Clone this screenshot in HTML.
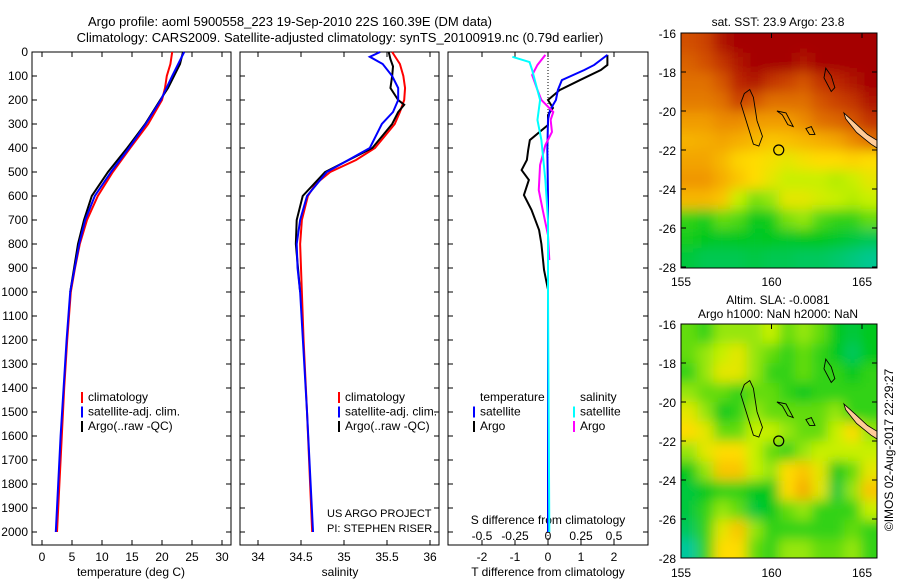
<!DOCTYPE html>
<html><head><meta charset="utf-8"><style>
body{margin:0;background:#fff}
svg{font-family:"Liberation Sans",sans-serif;font-size:12px}
</style></head><body>
<svg id="s" width="900" height="580" xmlns="http://www.w3.org/2000/svg">
<defs>
<filter id="bl" x="-10%" y="-10%" width="120%" height="120%"><feGaussianBlur stdDeviation="6"/></filter>
<clipPath id="c1"><rect x="681" y="33" width="196" height="235"/></clipPath>
<clipPath id="c2"><rect x="681" y="324" width="196" height="234"/></clipPath>
</defs>
<text x="290" y="26" text-anchor="middle" font-size="13">Argo profile: aoml 5900558_223 19-Sep-2010 22S 160.39E (DM data)</text>
<text x="340" y="42" text-anchor="middle" font-size="13">Climatology: CARS2009. Satellite-adjusted climatology: synTS_20100919.nc (0.79d earlier)</text>
<text x="778" y="26" text-anchor="middle">sat. SST: 23.9 Argo: 23.8</text>
<text x="778" y="304" text-anchor="middle">Altim. SLA: -0.0081</text>
<text x="778" y="318" text-anchor="middle">Argo h1000: NaN h2000: NaN</text>
<text transform="translate(893,450) rotate(-90)" text-anchor="middle">©IMOS 02-Aug-2017 22:29:27</text>
<g id="g"></g>
</svg>
<script>
const depthTicks=[0,100,200,300,400,500,600,700,800,900,1000,1100,1200,1300,1400,1500,1600,1700,1800,1900,2000];
const tempTicks=[0,5,10,15,20,25,30];
const salTicks=[34,34.5,35,35.5,36];
const tdTicks=[-2,-1,0,1,2];
const sdTicks=[-0.5,-0.25,0,0.25,0.5];
const sdTickLabels=["-0.5","-0.25","0","0.25","0.5"];

const tClimDepth=[0,50,100,150,200,300,400,500,600,700,800,900,1000,1200,1400,1600,1800,2000];
const tClimVal=[21.7,21.4,20.8,20.5,20.0,17.7,14.7,11.8,9.3,7.5,6.3,5.5,4.8,4.2,3.7,3.3,2.9,2.5];
const tArgoDepth=[0,50,100,150,200,300,400,500,600,700,800,1000];
const tArgoVal=[23.5,23.0,22.0,21.0,19.7,17.2,14.2,11.0,8.3,7.0,6.0,4.7];
const tSatDepth=[0,100,200,300,400,500,600,700,800,1000,1200,1400,1600,1800,2000];
const tSatVal=[23.7,21.7,19.8,17.3,14.5,11.5,8.8,7.2,6.2,4.7,4.1,3.6,3.1,2.7,2.3];

const sClimDepth=[0,50,100,150,200,250,300,400,450,500,550,600,700,800,900,1000,1200,1500,2000];
const sClimVal=[35.56,35.65,35.69,35.71,35.70,35.65,35.59,35.36,35.14,34.84,34.67,34.58,34.51,34.49,34.50,34.51,34.53,34.57,34.63];
const sArgoDepth=[0,30,60,100,150,200,220,250,300,400,500,600,700,800,1000];
const sArgoVal=[35.52,35.54,35.57,35.56,35.54,35.63,35.70,35.63,35.56,35.33,34.78,34.52,34.45,34.44,34.49];
const sSatDepth=[0,20,50,100,150,200,250,300,400,500,600,700,800,900,1000,1500,2000];
const sSatVal=[35.42,35.30,35.45,35.56,35.63,35.63,35.57,35.44,35.30,34.80,34.57,34.49,34.45,34.46,34.49,34.57,34.64];

const dtSatDepth=[12,54,75,117,158,200,242,283,408,600,1000,1500,2000];
const dtSatVal=[1.8,1.4,1.1,0.42,0.3,0.24,0.06,0,-0.02,0,0,0,0];
const dtArgoDepth=[12,54,75,117,158,200,233,263,304,367,408,450,492,533,596,658,742,800,908,990];
const dtArgoVal=[1.8,1.8,1.6,0.97,0.36,0,0.15,0,0,-0.55,-0.6,-0.64,-0.8,-0.58,-0.73,-0.5,-0.27,-0.2,-0.12,0];
const dsSatDepth=[20,42,75,117,200,283,367,533,700,867,1000,2000];
const dsSatVal=[-0.27,-0.14,-0.12,-0.1,-0.06,-0.08,-0.05,-0.02,0,0,0,0.01];
const dsArgoDepth=[12,54,96,158,200,250,283,333,388,471,575,658,763,867];
const dsArgoVal=[-0.02,-0.08,-0.12,-0.08,-0.05,0.04,0.02,0.03,-0.02,-0.06,-0.07,-0.04,0,0.01];

const sstGrid=[
[.88,.9,.97,1,1,1,1,1,1,1,1,1],
[.85,.88,.92,.97,1,1,1,.97,1,1,1,1],
[.82,.82,.87,.94,.97,.92,.9,.87,.92,.94,.97,1],
[.8,.8,.82,.9,.87,.82,.82,.82,.87,.9,.92,.97],
[.74,.74,.77,.77,.74,.74,.74,.77,.82,.84,.87,.92],
[.69,.7,.72,.7,.68,.65,.66,.68,.7,.72,.77,.82],
[.72,.72,.68,.62,.6,.58,.55,.58,.6,.6,.62,.6],
[.75,.75,.7,.65,.6,.55,.5,.5,.5,.48,.5,.55],
[.68,.68,.65,.5,.42,.45,.55,.55,.52,.5,.48,.5],
[.35,.32,.4,.38,.3,.32,.42,.45,.38,.35,.35,.4],
[.32,.3,.28,.3,.28,.3,.28,.3,.3,.28,.25,.22],
[.25,.22,.22,.22,.24,.22,.22,.2,.2,.18,.15,.12]];
const slaGrid=[
[.4,.35,.45,.45,.45,.5,.4,.45,.4,.3,.25,.3],
[.4,.45,.5,.55,.45,.4,.35,.4,.35,.3,.2,.3],
[.35,.45,.55,.55,.45,.35,.35,.4,.35,.35,.3,.35],
[.45,.4,.4,.35,.4,.4,.35,.3,.35,.35,.35,.35],
[.55,.45,.3,.35,.45,.4,.4,.4,.4,.45,.35,.35],
[.6,.55,.4,.4,.5,.5,.45,.4,.4,.5,.6,.45],
[.45,.55,.6,.6,.5,.4,.35,.45,.5,.5,.5,.5],
[.3,.45,.65,.65,.5,.45,.6,.65,.55,.3,.4,.55],
[.25,.3,.35,.35,.3,.3,.6,.7,.55,.25,.45,.65],
[.25,.35,.45,.4,.25,.3,.4,.45,.35,.35,.35,.5],
[.2,.35,.55,.65,.45,.35,.35,.35,.35,.35,.4,.35],
[.1,.35,.6,.6,.4,.35,.45,.45,.4,.4,.45,.35]];
const lonTicks=[155,160,165];
const latTicks=[-16,-18,-20,-22,-24,-26,-28];

const NS='http://www.w3.org/2000/svg';
const G=document.getElementById('g');
function mk(t,a,p){const e=document.createElementNS(NS,t);for(const k in a)e.setAttribute(k,a[k]);(p||G).appendChild(e);return e;}
const yD=d=>52+d*0.24;
const xT=v=>42+v*6;
const xS=v=>301+(v-34.5)*86;
const xTD=v=>548+v*33;
const xSD=v=>548+v*132;

function frame(x0,x1,name){
  const r=mk('rect',{x:x0,y:52,width:x1-x0,height:493,fill:'none',stroke:'#000'});
  
  
  depthTicks.forEach(d=>{mk('line',{x1:x0,x2:x0+5,y1:yD(d),y2:yD(d),stroke:'#000'});mk('line',{x1:x1-5,x2:x1,y1:yD(d),y2:yD(d),stroke:'#000'});});
}
function xticks(vals,fx,labels,y0,ly,name){
  vals.forEach((v,i)=>{const x=fx(v);
    mk('line',{x1:x,x2:x,y1:52,y2:57,stroke:'#000'});mk('line',{x1:x,x2:x,y1:540,y2:545,stroke:'#000'});
    const t=mk('text',{x:x,y:ly,'text-anchor':'middle'});t.textContent=labels[i];
    
    });
}
function line(ds,vs,fx,col,w,name){
  const p=mk('polyline',{points:ds.map((d,i)=>fx(vs[i])+','+yD(d)).join(' '),fill:'none',stroke:col,'stroke-width':w});
  
  
}
function txt(x,y,s,name,anchor){const t=mk('text',{x:x,y:y,'text-anchor':anchor||'start'});t.textContent=s;
  
  return t;}

frame(32,231,'temperature-panel');frame(240,439,'salinity-panel');frame(448,648,'difference-panel');
depthTicks.forEach(d=>{const t=txt(28,yD(d)+4,String(d),'depth-tick-label','end');});
xticks(tempTicks,xT,tempTicks.map(String),0,561,'temperature-tick-label');
xticks(salTicks,xS,salTicks.map(String),0,561,'salinity-tick-label');
xticks(tdTicks,xTD,tdTicks.map(String),0,561,'t-diff-tick-label');
sdTicks.forEach((v,i)=>txt(xSD(v),540,sdTickLabels[i],'s-diff-tick-label','middle'));
txt(131,576,'temperature (deg C)','temperature-axis-title','middle');
txt(340,576,'salinity','salinity-axis-title','middle');
txt(548,576,'T difference from climatology','t-diff-axis-title','middle');
txt(548,524,'S difference from climatology','s-diff-axis-title','middle');
txt(327,517,'US ARGO PROJECT','project-label').setAttribute('font-size','11');
txt(327,532,'PI: STEPHEN RISER','pi-label').setAttribute('font-size','11');
mk('line',{x1:548,x2:548,y1:52,y2:540,stroke:'#000','stroke-dasharray':'1,2'});

line(tClimDepth,tClimVal,xT,'#f00',2,'temp-climatology-line');
line(tArgoDepth,tArgoVal,xT,'#000',2,'temp-argo-line');
line(tSatDepth,tSatVal,xT,'#00f',2,'temp-satellite-line');
line(sClimDepth,sClimVal,xS,'#f00',2,'sal-climatology-line');
line(sArgoDepth,sArgoVal,xS,'#000',2,'sal-argo-line');
line(sSatDepth,sSatVal,xS,'#00f',2,'sal-satellite-line');
line(dtArgoDepth,dtArgoVal,xTD,'#000',2,'tdiff-argo-line');
line(dtSatDepth,dtSatVal,xTD,'#00f',2,'tdiff-satellite-line');
line(dsArgoDepth,dsArgoVal,xSD,'#f0f',2,'sdiff-argo-line');
line(dsSatDepth,dsSatVal,xSD,'#0ff',2,'sdiff-satellite-line');

function legend(x,y,items,name){items.forEach((it,i)=>{const yy=y+i*14.5;
  if(it[0])mk('line',{x1:x,x2:x,y1:yy-9,y2:yy+2,stroke:it[0],'stroke-width':2});
  txt(x+6,yy,it[1],name);});}
legend(82,401,[['#f00','climatology'],['#00f','satellite-adj. clim.'],['#000','Argo(..raw -QC)']],'temp-legend-entry');
legend(339,401,[['#f00','climatology'],['#00f','satellite-adj. clim.'],['#000','Argo(..raw -QC)']],'sal-legend-entry');
legend(474,401,[[null,'temperature'],['#00f','satellite'],['#000','Argo']],'tdiff-legend-entry');
legend(574,401,[[null,'salinity'],['#0ff','satellite'],['#f0f','Argo']],'sdiff-legend-entry');

function cmap(v){const st=[[0,[0,200,220]],[0.3,[0,200,30]],[0.5,[200,240,0]],[0.6,[255,220,0]],[0.75,[240,150,0]],[0.88,[210,80,0]],[1,[165,0,0]]];
  for(let i=1;i<st.length;i++){if(v<=st[i][0]){const a=st[i-1],b=st[i],f=(v-a[0])/(b[0]-a[0]);
    return 'rgb('+a[1].map((c,k)=>Math.round(c+(b[1][k]-c)*f)).join(',')+')';}}return 'rgb(165,0,0)';}
function map(y0,grid,clip,name){
  const xL=lon=>681+(lon-155)*18.1, yL=lat=>y0+(-16-lat)*19.5;
  const g=mk('g',{'clip-path':'url(#'+clip+')'});
  
  
  const gb=mk('g',{filter:'url(#bl)'},g);
  const cw=196/12,ch=235/12,n=grid.length,m=grid[0].length,pad=20;
  grid.forEach((row,r)=>row.forEach((v,c)=>{
    const x=681+c*cw-(c==0?pad:0), y=y0+r*ch-(r==0?pad:0);
    const w=cw+1+(c==0?pad:0)+(c==m-1?pad:0), h=ch+1+(r==0?pad:0)+(r==n-1?pad:0);
    mk('rect',{x:x,y:y,width:w,height:h,fill:cmap(v)},gb);}));
  mk('polygon',{points:[[164,-20.1],[164.6,-20.6],[165.3,-21.2],[166,-21.6],[166,-22],[165.5,-21.7],[164.7,-21.1],[164.1,-20.4]].map(p=>xL(p[0])+','+yL(p[1])).join(' '),fill:'#fc9',stroke:'#000','stroke-width':0.8},g);
  [[[158.5,-19.1],[158.8,-18.9],[159,-19.3],[159.2,-20.5],[159.5,-21.3],[159.3,-21.8],[159,-21.7],[158.6,-20.5],[158.3,-19.6]],
   [[163,-17.8],[163.3,-18.2],[163.5,-18.8],[163.3,-19],[162.9,-18.3]],
   [[160.3,-20],[160.8,-20.1],[161.2,-20.8],[160.9,-20.7],[160.6,-20.2]],
   [[161.9,-20.9],[162.2,-20.8],[162.4,-21.2],[162.1,-21.2]]].forEach(pl=>
    mk('polygon',{points:pl.map(p=>xL(p[0])+','+yL(p[1])).join(' '),fill:'none',stroke:'#000','stroke-width':0.9},g));
  const c=mk('circle',{cx:xL(160.4),cy:yL(-22),r:5,fill:'none',stroke:'#000','stroke-width':1.2},g);
  
  
  mk('rect',{x:681,y:y0,width:196,height:(clip=='c1'?235:234),fill:'none',stroke:'#000'});
  latTicks.forEach(l=>{const y=yL(l);mk('line',{x1:681,x2:686,y1:y,y2:y,stroke:'#000'});mk('line',{x1:872,x2:877,y1:y,y2:y,stroke:'#000'});
    txt(676,y+5,String(l),'latitude-tick-label','end').setAttribute('font-size','12');});
  lonTicks.forEach(l=>{const x=xL(l);mk('line',{x1:x,x2:x,y1:y0,y2:y0+5,stroke:'#000'});
    txt(x,y0+253,String(l),'longitude-tick-label','middle').setAttribute('font-size','12');});
}
map(33,sstGrid,'c1','sst-map');
map(324,slaGrid,'c2','sla-map');
</script>
</body></html>
